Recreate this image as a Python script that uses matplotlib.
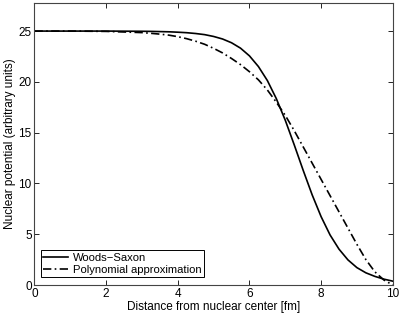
import numpy as np
import matplotlib
matplotlib.use('Agg')
import matplotlib.pyplot as plt

# values
r = [0, 1, 2, 3, 3.25, 3.5, 3.75, 4, 4.25, 4.5, 4.75, 5, 5.25, 5.5, 5.75, 6,
     6.25, 6.5, 6.75, 7, 7.25, 7.5, 7.75, 8, 8.25, 8.5, 8.75, 9, 9.25, 9.5,
     9.75, 10]
woods_saxon = [25, 25, 25, 24.98, 24.97, 24.95, 24.93, 24.89, 24.84, 24.76,
               24.65, 24.47, 24.22, 23.85, 23.32, 22.56, 21.51, 20.13, 18.35,
               16.22, 13.8, 11.29, 8.88, 6.73, 4.93, 3.53, 2.47, 1.71, 1.2,
               0.85, 0.58, 0.38]
polynomial = [25, 25, 24.97, 24.85, 24.78, 24.7, 24.6, 24.45, 24.25, 24.0,
              23.7, 23.3, 22.85, 22.3, 21.7, 21.0, 20.2, 19.2, 18.0, 16.7,
              15.2, 13.6, 12.0, 10.4, 8.8, 7.2, 5.6, 4.0, 2.5, 1.3, 0.5, 0.0]

x_ticks = [0, 2, 4, 6, 8, 10]
y_ticks = [0, 5, 10, 15, 20, 25]

plt.rcParams['font.family'] = ['Liberation Sans', 'DejaVu Sans']
plt.rcParams['font.size'] = 8.5

fig = plt.figure(figsize=(4.02, 3.15), dpi=100)
ax = fig.add_axes([0.0858, 0.0952, 0.8912, 0.8948])

ax.plot(r, woods_saxon, color='black', linewidth=1.2, label='Woods\u2212Saxon')
ax.plot(r, polynomial, color='black', linewidth=1.2, linestyle='-.',
        dashes=(5, 2, 1, 2), label='Polynomial approximation')

ax.set_xlim(0, 10)
ax.set_ylim(0, 27.75)
ax.set_xticks(x_ticks)
ax.set_yticks(y_ticks)
ax.tick_params(direction='in', top=True, right=True, length=3.5, width=0.6,
               colors='black', pad=2)
for s in ax.spines.values():
    s.set_linewidth(0.8)
    s.set_color('#444444')

ax.set_xlabel('Distance from nuclear center [fm]', labelpad=1)
ax.set_ylabel('Nuclear potential (arbitrary units)', labelpad=2)

leg = ax.legend(loc='lower left', bbox_to_anchor=(0.018, 0.028), borderaxespad=0,
                fancybox=False, edgecolor='black', framealpha=1, fontsize=8.1,
                handlelength=2.2, handletextpad=0.45, borderpad=0.2,
                labelspacing=0.2)
leg.get_frame().set_linewidth(0.7)

fig.savefig('out.png', dpi=100)
